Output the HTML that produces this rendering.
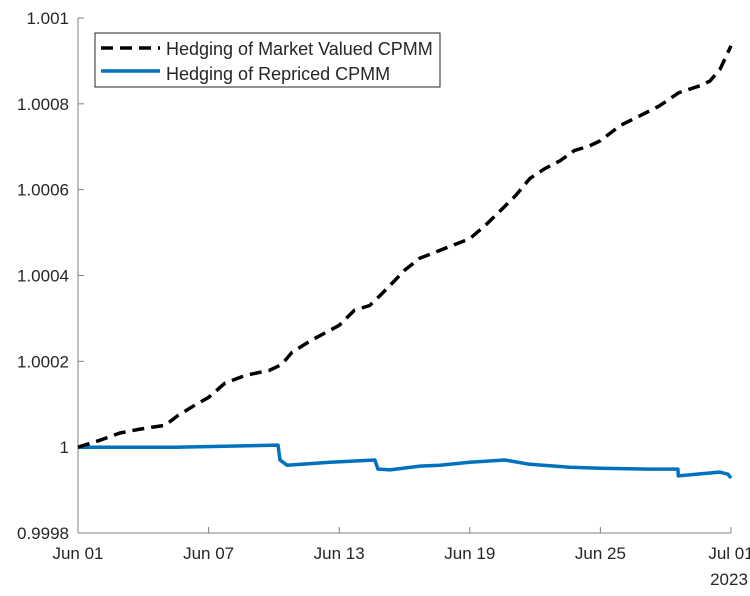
<!DOCTYPE html>
<html><head><meta charset="utf-8"><style>
body{margin:0;background:#fff}
svg text{font-family:"Liberation Sans",sans-serif;fill:#262626}
</style></head><body>
<svg id="c" width="750" height="591"></svg>
<script>
const xTickLabels=["Jun 01","Jun 07","Jun 13","Jun 19","Jun 25","Jul 01"];
const xTickDays=[0,6,12,18,24,30];
const yTicks=[0.9998,1,1.0002,1.0004,1.0006,1.0008,1.001];
const yTickLabels=["0.9998","1","1.0002","1.0004","1.0006","1.0008","1.001"];
const mktDays=[0,1,1.93,2.85,4,4.6,5.37,6,6.75,7.67,8.8,9.37,9.83,10.65,12,12.7,13.4,13.87,14.55,15,15.7,16.6,18,18.7,19.4,20.1,20.76,21.45,22.14,22.8,23.5,24,24.9,25.8,26.7,27.6,28.57,29.03,29.5,30];
const mktVals=[1,1.000016,1.000033,1.000042,1.000051,1.000074,1.000098,1.000116,1.000149,1.000167,1.000179,1.000193,1.000221,1.000247,1.000284,1.000319,1.00033,1.000353,1.000388,1.000412,1.00044,1.000458,1.000486,1.000516,1.000551,1.000586,1.000626,1.000649,1.000667,1.000691,1.000702,1.000714,1.000749,1.000772,1.000795,1.000826,1.000842,1.000853,1.000881,1.000935];
const repDays=[0,4.46,9.19,9.28,9.6,11.58,13.64,13.78,14.33,15.71,16.63,18,19.61,20.76,22.6,24,26.27,27.56,27.58,29.47,29.86,30];
const repVals=[1,1,1.0000047,0.99997,0.999958,0.999965,0.99997,0.999949,0.999947,0.999956,0.999958,0.999965,0.99997,0.99996,0.999953,0.999951,0.999949,0.999949,0.999933,0.999942,0.999937,0.999928];
const X0=78,X1=731,Y0=533,Y1=18;
const xs=d=>X0+(X1-X0)*d/30;
const ys=v=>Y0-(Y0-Y1)*(v-0.9998)/0.0012;
const svg=document.getElementById('c');
const NS='http://www.w3.org/2000/svg';
function mk(t,a,p){const e=document.createElementNS(NS,t);for(const k in a)e.setAttribute(k,a[k]);(p||svg).appendChild(e);return e;}
let e;
e=mk('line',{x1:X0,y1:Y0,x2:X1,y2:Y0,stroke:'#808080','stroke-width':1});


e=mk('line',{x1:X0,y1:Y0,x2:X0,y2:Y1,stroke:'#808080','stroke-width':1});


xTickDays.forEach((d,i)=>{
 mk('line',{x1:xs(d),y1:Y0,x2:xs(d),y2:Y0-6,stroke:'#808080'});
 e=mk('text',{x:xs(d),y:Y0+26,'text-anchor':'middle','font-size':17,fill:'#404040'});
 e.textContent=xTickLabels[i];
 
 
});
e=mk('text',{x:X1-2,y:Y0+52,'text-anchor':'middle','font-size':17,fill:'#404040'});e.textContent='2023';


yTicks.forEach((v,i)=>{
 mk('line',{x1:X0,y1:ys(v),x2:X0+6,y2:ys(v),stroke:'#808080'});
 e=mk('text',{x:X0-9,y:ys(v)+6,'text-anchor':'end','font-size':17,fill:'#404040'});
 e.textContent=yTickLabels[i];
 
 
});
function pts(dd,vv){return dd.map((d,i)=>xs(d).toFixed(1)+','+ys(vv[i]).toFixed(1)).join(' ');}
e=mk('polyline',{points:pts(repDays,repVals),fill:'none',stroke:'#0072BD','stroke-width':3.5,'stroke-linejoin':'round'});


e=mk('polyline',{points:pts(mktDays,mktVals),fill:'none',stroke:'#000','stroke-width':3.5,'stroke-dasharray':'12 7'});


const lg=mk('g',{});


mk('rect',{x:95,y:33,width:345,height:54,fill:'#fff',stroke:'#262626','stroke-width':1},lg);
mk('line',{x1:101,y1:48,x2:160,y2:48,stroke:'#000','stroke-width':3.5,'stroke-dasharray':'12 7'},lg);
e=mk('text',{x:166,y:55,'font-size':18},lg);e.textContent='Hedging of Market Valued CPMM';


mk('line',{x1:101,y1:71,x2:160,y2:71,stroke:'#0072BD','stroke-width':3.5},lg);
e=mk('text',{x:166,y:80,'font-size':18},lg);e.textContent='Hedging of Repriced CPMM';


</script>
</body></html>
